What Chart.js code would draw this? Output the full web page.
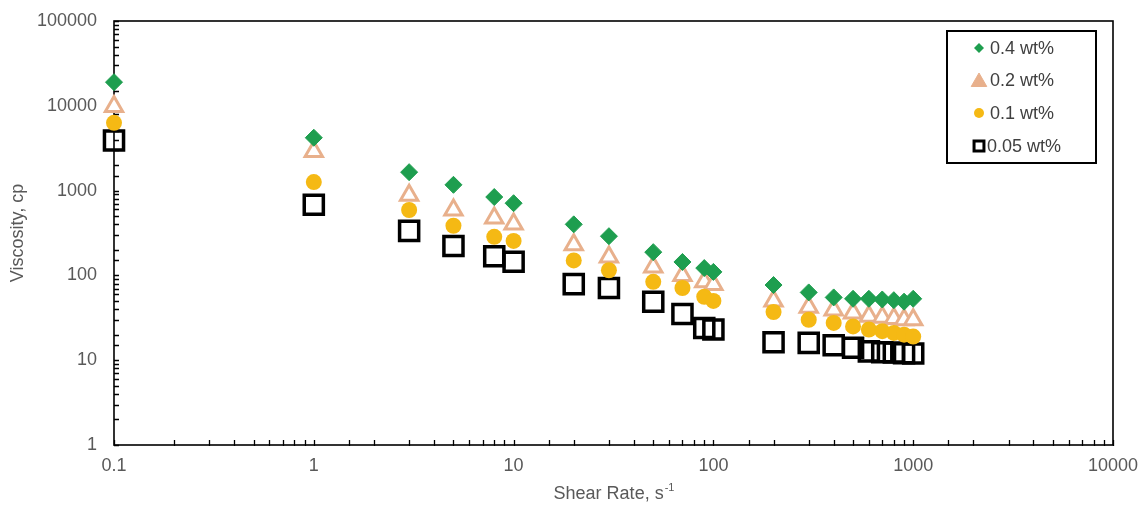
<!DOCTYPE html>
<html>
<head>
<meta charset="utf-8">
<script src="https://cdn.jsdelivr.net/npm/chart.js@4.4.1/dist/chart.umd.min.js"></script>
<style>
  html, body { margin: 0; padding: 0; background: #ffffff; }
  #wrap { width: 1147px; height: 508px; position: relative; }
  canvas { display: block; }
</style>
</head>
<body>
<div id="wrap"><canvas id="c" width="1147" height="508"></canvas></div>
<script>
// Shear rates (s^-1) and measured viscosities (cp) for each polymer concentration
const shearRate = [0.1, 1, 3, 5, 8, 10, 20, 30, 50, 70, 90, 100, 200, 300, 400, 500, 600, 700, 800, 900, 1000];
const visc04  = [19000, 4200, 1650, 1170, 840, 710, 400, 290, 188, 144, 122, 110, 77, 63, 55, 53, 53, 52, 51, 49, 53];
const visc02  = [9800, 2900, 880, 590, 475, 405, 230, 165, 126, 100, 84, 78, 50, 42, 39, 36, 33, 32, 31, 30, 30];
const visc01  = [6300, 1260, 590, 385, 285, 255, 150, 115, 84, 71, 56, 50, 37, 30, 27.5, 25, 23, 22, 21, 20, 19];
const visc005 = [3900, 680, 335, 222, 168, 145, 79, 71, 49, 35, 24, 23, 16.3, 16, 15, 14, 12.7, 12.4, 12.3, 12.1, 12];

const seriesLabels = ['0.4 wt%', '0.2 wt%', '0.1 wt%', '0.05 wt%'];
const xTickLabels = ['0.1', '1', '10', '100', '1000', '10000'];
const yTickLabels = ['1', '10', '100', '1000', '10000', '100000'];

const FONT = '"Liberation Sans", Arial, sans-serif';
const TEXT_GRAY = '#595959';

function points(values) {
  return shearRate.map((x, i) => ({ x: x, y: values[i] }));
}

function isDecade(v) {
  const l = Math.log10(v);
  return Math.abs(l - Math.round(l)) < 1e-6;
}

// Frame around the plot area plus inward minor/major tick marks
const frameTicks = {
  id: 'frameTicks',
  beforeDatasetsDraw(chart) {
    const { ctx, chartArea: a, scales } = chart;
    ctx.save();
    ctx.strokeStyle = '#000000';
    ctx.lineWidth = 1.6;
    ctx.strokeRect(a.left, a.top, a.right - a.left, a.bottom - a.top);
    ctx.lineWidth = 1.3;
    ctx.beginPath();
    scales.x.ticks.forEach(t => {
      const px = Math.round(scales.x.getPixelForValue(t.value)) + 0.5;
      ctx.moveTo(px, a.bottom - 5);
      ctx.lineTo(px, a.bottom + 1);
    });
    scales.y.ticks.forEach(t => {
      const py = Math.round(scales.y.getPixelForValue(t.value)) + 0.5;
      ctx.moveTo(a.left, py);
      ctx.lineTo(a.left + 5, py);
    });
    ctx.stroke();
    ctx.restore();
  }
};

// Boxed key in the upper right of the plot
const boxedKey = {
  id: 'boxedKey',
  afterDraw(chart) {
    const { ctx } = chart;
    const H = Chart.helpers;
    const left = 947, top = 31, w = 149, h = 132;
    ctx.save();
    ctx.strokeStyle = '#000000';
    ctx.lineWidth = 2;
    ctx.strokeRect(left, top, w, h);
    const rows = [48, 80, 113, 146];
    const mx = 979;
    const styles = [
      { pointStyle: 'rectRot', radius: 5, backgroundColor: '#1E9E4F', borderColor: '#1E9E4F', borderWidth: 0 },
      { pointStyle: 'triangle', radius: 9, backgroundColor: '#E8B08C', borderColor: '#E8B08C', borderWidth: 1 },
      { pointStyle: 'circle', radius: 5, backgroundColor: '#F5B914', borderColor: '#F5B914', borderWidth: 0 },
      { pointStyle: 'rect', radius: 7, backgroundColor: '#ffffff', borderColor: '#000000', borderWidth: 3 }
    ];
    styles.forEach((s, i) => {
      ctx.fillStyle = s.backgroundColor;
      ctx.strokeStyle = s.borderColor;
      ctx.lineWidth = s.borderWidth;
      const y = s.pointStyle === 'triangle' ? rows[i] + 2 : rows[i];
      H.drawPoint(ctx, { pointStyle: s.pointStyle, radius: s.radius, rotation: 0, borderWidth: s.borderWidth }, mx, y);
    });
    ctx.fillStyle = '#404040';
    ctx.font = '18px ' + FONT;
    ctx.textAlign = 'left';
    ctx.textBaseline = 'middle';
    seriesLabels.forEach((t, i) => ctx.fillText(t, i === 3 ? 987 : 990, rows[i] + 1));
    ctx.restore();
  }
};

// Horizontal axis title with a superscript exponent
const xTitle = {
  id: 'xTitle',
  afterDraw(chart) {
    const { ctx, chartArea: a } = chart;
    ctx.save();
    ctx.fillStyle = TEXT_GRAY;
    ctx.textBaseline = 'middle';
    ctx.textAlign = 'left';
    const main = 'Shear Rate, s';
    const sup = '-1';
    ctx.font = '18px ' + FONT;
    const wMain = ctx.measureText(main).width;
    ctx.font = '11px ' + FONT;
    const wSup = ctx.measureText(sup).width;
    const cx = (a.left + a.right) / 2;
    const x0 = cx - (wMain + wSup) / 2;
    ctx.font = '18px ' + FONT;
    ctx.fillText(main, x0, 494);
    ctx.font = '11px ' + FONT;
    ctx.fillText(sup, x0 + wMain + 1, 488);
    ctx.restore();
  }
};

new Chart(document.getElementById('c'), {
  type: 'scatter',
  data: {
    datasets: [
      { label: seriesLabels[0], data: points(visc04), pointStyle: 'rectRot', pointRadius: 8.5,
        backgroundColor: '#1E9E4F', borderColor: '#1E9E4F', borderWidth: 1, order: 0, clip: false },
      { label: seriesLabels[1], data: points(visc02), pointStyle: 'triangle', pointRadius: 10,
        backgroundColor: '#ffffff', borderColor: '#E8B08C', borderWidth: 3, order: 2, clip: false },
      { label: seriesLabels[2], data: points(visc01), pointStyle: 'circle', pointRadius: 8,
        backgroundColor: '#F5B914', borderColor: '#F5B914', borderWidth: 0, order: 1, clip: false },
      { label: seriesLabels[3], data: points(visc005), pointStyle: 'rect', pointRadius: 13.5,
        backgroundColor: 'rgba(0,0,0,0)', borderColor: '#000000', borderWidth: 3.5, order: 3, clip: false }
    ]
  },
  options: {
    responsive: false,
    devicePixelRatio: 1,
    animation: false,
    events: [],
    layout: { padding: { left: 0, right: 34, top: 21, bottom: 0 } },
    plugins: { legend: { display: false }, tooltip: { enabled: false } },
    scales: {
      x: {
        type: 'logarithmic',
        min: 0.1, max: 10000,
        grid: { display: false, drawTicks: false },
        border: { display: false },
        afterFit(s) { s.height = 63; s.paddingLeft = 0; s.paddingRight = 0; },
        ticks: {
          autoSkip: false, maxRotation: 0, padding: 10,
          color: TEXT_GRAY, font: { family: FONT, size: 18 },
          callback(v) { return isDecade(v) ? xTickLabels[Math.round(Math.log10(v)) + 1] : ''; }
        },
        title: { display: false }
      },
      y: {
        type: 'logarithmic',
        min: 1, max: 100000,
        grid: { display: false, drawTicks: false },
        border: { display: false },
        afterFit(s) { s.width = 114; s.paddingTop = 0; s.paddingBottom = 0; },
        ticks: {
          autoSkip: false, padding: 17,
          color: TEXT_GRAY, font: { family: FONT, size: 18 },
          callback(v) { return isDecade(v) ? yTickLabels[Math.round(Math.log10(v))] : ''; }
        },
        title: {
          display: true, text: 'Viscosity, cp', color: TEXT_GRAY,
          font: { family: FONT, size: 18 }, padding: { top: 7, bottom: 0 }
        }
      }
    }
  },
  plugins: [frameTicks, boxedKey, xTitle]
});
</script>
</body>
</html>
